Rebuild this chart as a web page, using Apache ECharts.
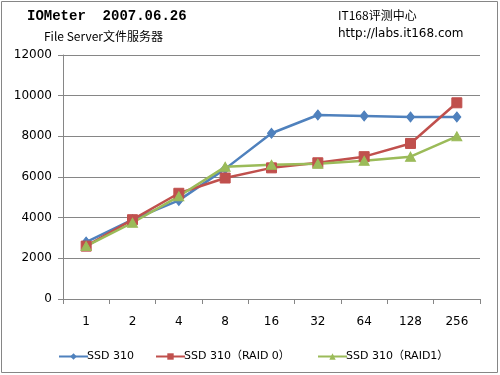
<!DOCTYPE html>
<html><head><meta charset="utf-8">
<script src="https://cdn.jsdelivr.net/npm/echarts@6/dist/echarts.min.js"></script>
<style>html,body{margin:0;padding:0;background:#fff}#c{width:500px;height:375px}</style>
</head><body><div id="c"></div>
<script>
const categories = ['1','2','4','8','16','32','64','128','256'];
const seriesNames = ['SSD 310','SSD 310（RAID 0）','SSD 310（RAID1）'];
const ssd310 = [2800, 3900, 4850, 6400, 8150, 9050, 9000, 8950, 8950];
const ssd310Raid0 = [2600, 3900, 5200, 5950, 6450, 6700, 7000, 7650, 9650];
const ssd310Raid1 = [2600, 3750, 5050, 6500, 6600, 6650, 6800, 7000, 8000];
const yTicks = [0, 2000, 4000, 6000, 8000, 10000, 12000];

const colors = ['#4F81BD', '#C0504D', '#9BBB59'];
const symbols = ['diamond', 'rect', 'triangle'];
const sizes = [[8, 10], 10, [10, 9]];
const values = [ssd310, ssd310Raid0, ssd310Raid1];
const legendLeft = [53, 150, 312];
const font = '"DejaVu Sans", "Noto Sans CJK SC", sans-serif';

const chart = echarts.init(document.getElementById('c'));
chart.setOption({
  animation: false,
  textStyle: { fontFamily: font },
  graphic: [
    { type: 'rect', shape: { x: 1.5, y: 1.5, width: 496, height: 371 }, style: { fill: 'none', stroke: '#868686', lineWidth: 1 } },
    { type: 'text', left: 27, top: 9, style: { text: 'IOMeter  2007.06.26', font: 'bold 14px "Liberation Mono", monospace', fill: '#000' } },
    { type: 'text', left: 44, top: 30, style: { text: 'File Server文件服务器', font: '12px "Noto Sans CJK SC", sans-serif', fill: '#000' } },
    { type: 'text', left: 338, top: 9, style: { text: 'IT168评测中心', font: '12px "Noto Sans CJK SC", sans-serif', fill: '#000' } },
    { type: 'text', left: 338, top: 28, style: { text: 'http://labs.it168.com', font: '12px "DejaVu Sans", sans-serif', fill: '#000' } }
  ],
  legend: seriesNames.map((n, i) => ({
    data: [n], left: legendLeft[i], top: 346, itemWidth: 29, itemHeight: 8, itemGap: 0,
    textStyle: { fontSize: 11, color: '#000', fontFamily: font, padding: [0, 0, 0, -6] }
  })),
  grid: { left: 63, right: 20, top: 55, bottom: 76 },
  xAxis: {
    type: 'category', data: categories, boundaryGap: true,
    axisLine: { lineStyle: { color: '#868686', width: 1 } },
    axisTick: { show: true, length: 5, lineStyle: { color: '#868686' } },
    axisLabel: { color: '#000', fontSize: 12, margin: 17 }
  },
  yAxis: {
    type: 'value', min: yTicks[0], max: yTicks[yTicks.length - 1], interval: yTicks[1] - yTicks[0],
    axisLine: { show: true, lineStyle: { color: '#868686', width: 1 } },
    axisTick: { show: true, length: 5, lineStyle: { color: '#868686' } },
    splitLine: { lineStyle: { color: '#868686', width: 1 } },
    axisLabel: { color: '#000', fontSize: 12, margin: 11, formatter: v => String(v) }
  },
  series: values.map((v, i) => ({
    name: seriesNames[i], type: 'line', data: v,
    symbol: symbols[i], symbolSize: sizes[i], showAllSymbol: true,
    lineStyle: { color: colors[i], width: 2.5 },
    itemStyle: { color: colors[i], borderColor: colors[i] }
  }))
});
</script></body></html>
